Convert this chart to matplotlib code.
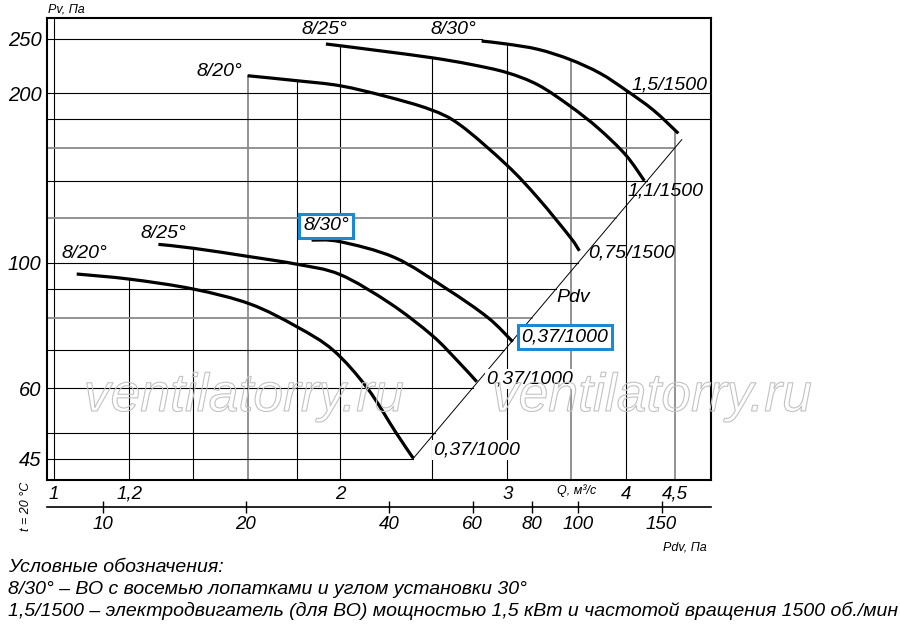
import numpy as np
import matplotlib
matplotlib.use("Agg")
import matplotlib.pyplot as plt
from matplotlib import patheffects as pe
from matplotlib.path import Path
from matplotlib.patches import PathPatch

plt.rcParams['font.family'] = ['Liberation Sans', 'DejaVu Sans']
plt.rcParams['font.style'] = 'italic'

# --- curves: Q (m3/s) vs Pv (Pa) ---
# upper group, 1500 rpm
q_820_hi = [1.599, 1.801, 2.0, 2.231, 2.488, 2.676, 2.996, 3.234, 3.493, 3.573]
p_820_hi = [214.8, 210.5, 206.2, 197.6, 187.2, 175.7, 149.2, 130.2, 111.2, 105.1]
q_825_hi = [1.933, 2.0, 2.204, 2.498, 2.741, 2.996, 3.234, 3.493, 3.741, 3.998, 4.182]
p_825_hi = [244.5, 242.8, 237.8, 231.2, 225.1, 217.6, 206.8, 189.8, 173.3, 155.4, 139.9]
q_830_hi = [2.819, 2.996, 3.234, 3.493, 3.756, 3.998, 4.274, 4.541]
p_830_hi = [247.5, 244.5, 239.2, 229.5, 217.0, 202.6, 186.7, 169.8]
# lower group, 1000 rpm
q_820_lo = [1.0566, 1.2023, 1.402, 1.608, 1.801, 1.968, 2.137, 2.291, 2.389]
p_820_lo = [95.6, 93.6, 89.9, 84.6, 77.1, 70.0, 60.0, 50.0, 45.05]
q_825_lo = [1.288, 1.402, 1.608, 1.801, 2.0, 2.258, 2.498, 2.654, 2.786]
p_825_lo = [107.9, 106.2, 102.6, 99.5, 95.4, 84.8, 74.5, 67.3, 61.6]
q_830_lo = [1.867, 2.0, 2.285, 2.59, 2.863, 3.04]
p_830_lo = [109.8, 109.1, 102.2, 90.0, 80.0, 72.5]

curves = [(q_820_hi, p_820_hi), (q_825_hi, p_825_hi), (q_830_hi, p_830_hi),
          (q_820_lo, p_820_lo), (q_825_lo, p_825_lo), (q_830_lo, p_830_lo)]

# dynamic pressure line Pdv = k * Q^2
pdv_k = 7.89
pdv_q = [2.389, 4.58]

grid_q = [1, 1.2, 1.4, 1.6, 1.8, 2, 2.5, 3, 3.5, 4, 4.5]
grid_q_grey = [1.6, 3.5, 4.5]
grid_p = [45, 50, 60, 70, 80, 90, 100, 120, 140, 160, 180, 200, 250]
grid_p_grey = [80, 120, 160]

q_ticks = [1, 1.2, 2, 3, 4, 4.5]
q_labels = ['1', '1,2', '2', '3', '4', '4,5']
p_ticks = [45, 60, 100, 200, 250]
p_labels = ['45', '60', '100', '200', '250']
pdv_ticks = [10, 20, 40, 60, 80, 100, 150]

W, H = 900, 638
def px(x, y):
    return x / W, 1 - y / H


def smooth_path(q, p, sx=950.0, sy=564.0):
    # Catmull-Rom through the read points, as cubic Bezier in log-log space
    pts = np.column_stack([np.log10(q) * sx, np.log10(p) * sy])
    ext = np.vstack([pts[0], pts, pts[-1]])
    verts = [pts[0]]
    codes = [Path.MOVETO]
    for i in range(len(pts) - 1):
        p0, p1, p2, p3 = ext[i], ext[i + 1], ext[i + 2], ext[i + 3]
        verts += [p1 + (p2 - p0) / 6, p2 - (p3 - p1) / 6, p2]
        codes += [Path.CURVE4] * 3
    v = np.array(verts)
    return Path(np.column_stack([10 ** (v[:, 0] / sx), 10 ** (v[:, 1] / sy)]), codes)


qlim = (0.982, 4.9155)
plim = (41.23, 271.9)

fig = plt.figure(figsize=(9, 6.38), dpi=100)
ax = fig.add_axes([46.5 / W, 1 - 480 / H, (711 - 46.5) / W, (480 - 18) / H])
ax.set_xscale('log')
ax.set_yscale('log')
ax.set_xlim(qlim)
ax.set_ylim(plim)

# grid: vertical lines stop at the top curve above them
for q in grid_q:
    tops = [np.interp(np.log(q), np.log(cq), cp) for cq, cp in curves
            if cq[0] <= q <= cq[-1]]
    top = max(tops) if tops else plim[1]
    grey = q in grid_q_grey
    ax.plot([q, q], [plim[0], top], color='#8a8a8a' if grey else 'black',
            lw=1.3 if grey else 0.8, zorder=1)

# horizontal lines stop at the Pdv line
pdv_top = pdv_k * pdv_q[1] ** 2
for p in grid_p:
    if p == 250:
        right = q_830_hi[0]
    elif p < pdv_top:
        right = np.sqrt(p / pdv_k)
    else:
        right = qlim[1]
    grey = p in grid_p_grey
    ax.plot([qlim[0], right], [p, p], color='#8a8a8a' if grey else 'black',
            lw=1.3 if grey else 0.8, zorder=1)

for cq, cp in curves:
    ax.add_patch(PathPatch(smooth_path(cq, cp), fill=False, edgecolor='black',
                           lw=2.3, capstyle='butt', zorder=3))

pq = np.array(pdv_q)
ax.plot(pq, pdv_k * pq ** 2, color='black', lw=0.7, zorder=2)

ax.minorticks_off()
ax.set_xticks(q_ticks)
ax.set_xticklabels(q_labels)
ax.set_yticks(p_ticks)
ax.set_yticklabels(p_labels)
ax.tick_params(axis='x', length=0, pad=4, labelsize=13.5)
ax.tick_params(axis='y', length=0, pad=3.5, labelsize=14.5)
for s in ax.spines.values():
    s.set_linewidth(1.5)

# secondary Pdv scale below
ax2 = fig.add_axes([46.5 / W, 1 - 507 / H, (711 - 46.5) / W, 0.0001])
ax2.set_xscale('log')
ax2.set_xlim(qlim)
ax2.patch.set_visible(False)
for side in ['top', 'left', 'right']:
    ax2.spines[side].set_visible(False)
ax2.spines['bottom'].set_linewidth(1.2)
ax2.set_yticks([])
ax2.minorticks_off()
ax2.set_xticks(np.sqrt(np.array(pdv_ticks) / pdv_k))
ax2.set_xticklabels([str(v) for v in pdv_ticks])
ax2.tick_params(axis='x', direction='inout', length=9, width=1, pad=2, labelsize=13.5)

# axis captions
fig.text(*px(48, 9), 'Pv, Па', fontsize=9, ha='left', va='center')
fig.text(*px(577, 491), 'Q, м³/с', fontsize=9, ha='center', va='center')
fig.text(*px(685, 547), 'Pdv, Па', fontsize=9, ha='center', va='center')
fig.text(*px(26, 506), 't = 20 °C', fontsize=9, ha='center', va='center', rotation=90)

# curve labels
blue = '#1b8ad6'
white = dict(boxstyle='square,pad=0.1', fc='white', ec='none')
boxed = dict(boxstyle='square,pad=0.2', fc='white', ec=blue, lw=2.2)
labels = [
    ('8/20°', 219, 72, None), ('8/25°', 324, 30, None), ('8/30°', 453, 30, None),
    ('8/20°', 84, 253, None), ('8/25°', 163, 233, None), ('8/30°', 326, 226, boxed),
    ('1,5/1500', 670, 85, None), ('1,1/1500', 666, 191, None),
    ('0,75/1500', 632, 253, None), ('0,37/1000', 565, 337, boxed),
    ('0,37/1000', 530, 379, white), ('0,37/1000', 477, 450, white),
    ('Pdv', 573, 298, None),
]
for t, x, y, bb in labels:
    fig.text(*px(x, y), t, fontsize=14, ha='center', va='center', bbox=bb, zorder=5)

# watermark
for x in (244, 652):
    fig.text(*px(x, 397), 'ventilatorry.ru', fontsize=38.5, ha='center', va='center',
             color='none', zorder=6,
             path_effects=[pe.withStroke(linewidth=0.8, foreground='#c2c2c2')])

# legend notes
notes = ['Условные обозначения:',
         '8/30° – ВО с восемью лопатками и углом установки 30°',
         '1,5/1500 – электродвигатель (для ВО) мощностью 1,5 кВт и частотой вращения 1500 об./мин']
for t, y in zip(notes, (567, 590, 611)):
    fig.text(*px(8, y), t, fontsize=14, ha='left', va='center')

fig.savefig('out.png', dpi=100, facecolor='white')
